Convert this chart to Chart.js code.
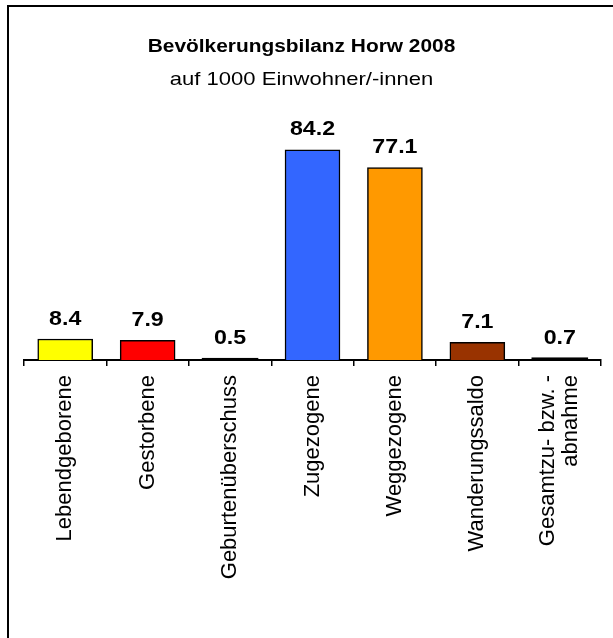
<!DOCTYPE html>
<html>
<head>
<meta charset="utf-8">
<script src="https://cdn.jsdelivr.net/npm/chart.js@4/dist/chart.umd.min.js"></script>
<style>
  html, body { margin: 0; padding: 0; background: #fff; }
  #wrap { position: relative; width: 613px; height: 638px; }
</style>
</head>
<body>
<div id="wrap"><canvas id="c" width="613" height="638"></canvas></div>
<script>
// Bevölkerungsbilanz Horw 2008, Werte pro 1000 Einwohner/-innen
const categories = [
  'Lebendgeborene',
  'Gestorbene',
  'Geburtenüberschuss',
  'Zugezogene',
  'Weggezogene',
  'Wanderungssaldo',
  ['Gesamtzu- bzw. -', 'abnahme']
];
const values = [8.4, 7.9, 0.5, 84.2, 77.1, 7.1, 0.7];
const barColors = ['#FFFF00', '#FF0000', '#000000', '#3366FF', '#FF9900', '#993300', '#000000'];
const titleText = 'Bevölkerungsbilanz Horw 2008';
const subtitleText = 'auf 1000 Einwohner/-innen';

const FONT = "'Liberation Sans', Arial, sans-serif";
const TEXT_STRETCH = 1.16; // horizontal widening of the header and value texts
const LABEL_SIZE = 22;
const LABEL_LINE = 1.05;

function drawWide(ctx, text, x, y, font) {
  ctx.save();
  ctx.font = font;
  ctx.fillStyle = '#000';
  ctx.textAlign = 'center';
  ctx.textBaseline = 'middle';
  ctx.translate(x, y);
  ctx.scale(TEXT_STRETCH, 1);
  ctx.fillText(text, 0, 0);
  ctx.restore();
}

// title, subtitle and value labels above each bar
const texts = {
  id: 'texts',
  afterDatasetsDraw(chart) {
    const ctx = chart.ctx;
    const cx = chart.width / 2 - 5;
    drawWide(ctx, titleText, cx, 47, 'bold 18px ' + FONT);
    drawWide(ctx, subtitleText, cx, 80, '19px ' + FONT);
    const meta = chart.getDatasetMeta(0);
    meta.data.forEach((bar, i) => {
      drawWide(ctx, values[i].toFixed(1), bar.x, bar.y - 20, 'bold 20px ' + FONT);
    });
  }
};

// white background and the outer frame line
const frame = {
  id: 'frame',
  beforeDraw(chart) {
    const ctx = chart.ctx;
    ctx.save();
    ctx.fillStyle = '#fff';
    ctx.fillRect(0, 0, chart.width, chart.height);
    ctx.restore();
  },
  afterDraw(chart) {
    const ctx = chart.ctx;
    ctx.save();
    ctx.fillStyle = '#000';
    ctx.fillRect(7, 5, 2, chart.height - 5);
    ctx.fillRect(7, 5, chart.width - 7, 2);
    ctx.restore();
  }
};

new Chart(document.getElementById('c'), {
  type: 'bar',
  data: {
    labels: categories,
    datasets: [{
      data: values,
      backgroundColor: barColors,
      borderColor: '#000',
      borderWidth: 1.5,
      inflateAmount: [0.33, 0.33, 1, 0.33, 0.33, 0.33, 1],
      categoryPercentage: 1,
      barPercentage: 0.667
    }]
  },
  options: {
    responsive: false,
    animation: false,
    devicePixelRatio: 1,
    layout: { padding: { left: 24, right: 12, top: 110.5, bottom: 0 } },
    plugins: {
      legend: { display: false },
      tooltip: { enabled: false },
      title: { display: false },
      subtitle: { display: false }
    },
    scales: {
      x: {
        grid: { offset: true, drawOnChartArea: false, color: '#000', lineWidth: 1.5, tickLength: 6 },
        border: { color: '#000', width: 2 },
        ticks: {
          color: '#000',
          font: { family: FONT, size: LABEL_SIZE, lineHeight: LABEL_LINE },
          minRotation: 90,
          maxRotation: 90,
          padding: 9,
          autoSkip: false
        },
        afterFit(scale) {
          scale.height = 278;
          scale.paddingLeft = 0;
          scale.paddingRight = 0;
        },
        afterUpdate(scale) {
          // keep multi-line labels centred on their category
          if (scale._centredLabels) return;
          scale._centredLabels = true;
          const compute = scale._computeLabelItems;
          scale._computeLabelItems = function (area) {
            const items = compute.call(this, area);
            items.forEach(item => {
              if (Array.isArray(item.label) && item.label.length > 1) {
                const shift = (item.label.length - 1) * LABEL_SIZE * LABEL_LINE / 2;
                item.options.translation = [item.options.translation[0] - shift, item.options.translation[1]];
              }
            });
            return items;
          };
        }
      },
      y: {
        display: false,
        min: 0,
        max: 100
      }
    }
  },
  plugins: [frame, texts]
});
</script>
</body>
</html>
